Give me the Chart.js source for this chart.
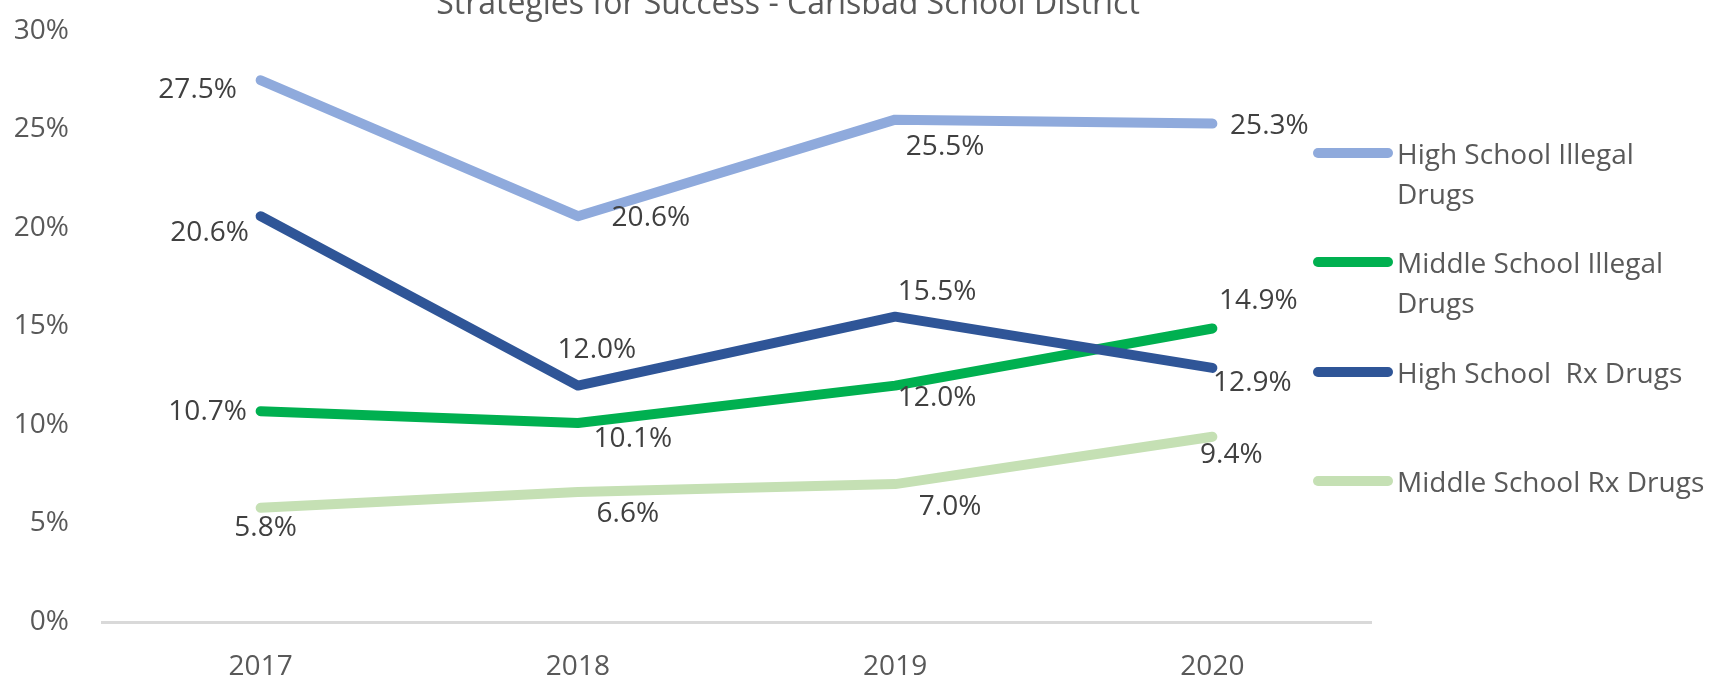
<!DOCTYPE html>
<html>
<head>
<meta charset="utf-8">
<title>Strategies for Success - Carlsbad School District</title>
<script src="https://cdn.jsdelivr.net/npm/chart.js@4.4.1/dist/chart.umd.min.js"></script>
<style>
  html, body { margin: 0; padding: 0; background: #fff; }
  #wrap { position: relative; width: 1733px; height: 677px; overflow: hidden; }
  #chart { position: absolute; left: 0; top: 0; }
  .legend-item {
    position: absolute; left: 1313px; display: flex; align-items: flex-start;
    font-family: 'Open Sans', sans-serif; font-size: 28px;
    line-height: 40px; color: #595959; white-space: pre;
  }
  .legend-item .swatch {
    display: inline-block; width: 80px; height: 10px; border-radius: 5px;
    margin-top: 15px; margin-right: 4px;
  }
</style>
</head>
<body>
<div id="wrap">
  <canvas id="chart" width="1733" height="677"></canvas>
  <div id="legend"></div>
</div>
<script>
// chart data
const years = ['2017', '2018', '2019', '2020'];
const hsIllegal = [27.5, 20.6, 25.5, 25.3];
const msIllegal = [10.7, 10.1, 12.0, 14.9];
const hsRx = [20.6, 12.0, 15.5, 12.9];
const msRx = [5.8, 6.6, 7.0, 9.4];
const seriesNames = ['High School Illegal\nDrugs', 'Middle School Illegal\nDrugs', 'High School  Rx Drugs', 'Middle School Rx Drugs'];
const yTickMin = 0;
const yTickMax = 30;
const yTickStep = 5;
const chartTitle = 'Strategies for Success - Carlsbad School District';

// styling
const FONT = "'Open Sans', sans-serif";
const colors = ['#8FAADC', '#00B050', '#2F5597', '#C5E0B4'];
const legendTops = [133, 242, 352, 461];
// data label offsets from each point (dx, dy), per series
const labelOffsets = [
  [[-63, 10], [73, 2], [50, 27], [57, 2]],
  [[-53, 1], [55, 16], [42, 12], [46, -27]],
  [[-51, 17], [19, -36], [42, -25], [40, 15]],
  [[5, 20], [50, 22], [55, 23], [19, 18]]
];

const seriesValues = [hsIllegal, msIllegal, hsRx, msRx];

// draws the value labels next to each point
const pointLabels = {
  id: 'pointLabels',
  afterDatasetsDraw(chart) {
    const ctx = chart.ctx;
    ctx.save();
    ctx.font = '28px ' + FONT;
    ctx.fillStyle = '#404040';
    ctx.textAlign = 'center';
    ctx.textBaseline = 'middle';
    chart.data.datasets.forEach((ds, i) => {
      const meta = chart.getDatasetMeta(i);
      meta.data.forEach((pt, j) => {
        const off = labelOffsets[i][j];
        ctx.fillText(ds.data[j].toFixed(1) + '%', pt.x + off[0], pt.y + off[1]);
      });
    });
    ctx.restore();
  }
};

// title sits partly above the top edge, like the original
const topTitle = {
  id: 'topTitle',
  afterDraw(chart) {
    const ctx = chart.ctx;
    ctx.save();
    ctx.font = '32px ' + FONT;
    ctx.fillStyle = '#595959';
    ctx.textAlign = 'center';
    ctx.textBaseline = 'alphabetic';
    ctx.fillText(chartTitle, 788, 14);
    ctx.restore();
  }
};

const ctx = document.getElementById('chart').getContext('2d');
new Chart(ctx, {
  type: 'line',
  data: {
    labels: years,
    datasets: seriesValues.map((vals, i) => ({
      label: seriesNames[i].replace('\n', ' '),
      data: vals,
      borderColor: colors[i],
      backgroundColor: colors[i],
      borderWidth: 10,
      borderCapStyle: 'round',
      borderJoinStyle: 'round',
      pointRadius: 0,
      tension: 0,
      order: seriesValues.length - 1 - i
    }))
  },
  options: {
    responsive: false,
    animation: false,
    layout: { padding: { top: 31, right: 362, left: 0, bottom: 0 } },
    plugins: {
      legend: { display: false },
      title: { display: false },
      tooltip: { enabled: false }
    },
    scales: {
      x: {
        offset: true,
        grid: { display: false },
        border: { display: true, color: '#D9D9D9', width: 3 },
        ticks: { color: '#595959', font: { family: FONT, size: 28 }, padding: 20 },
        afterFit(scale) { scale.height = 55; }
      },
      y: {
        min: yTickMin,
        max: yTickMax,
        // tick marks hidden; tickLength only sets the gap before the labels
        grid: { display: false, drawTicks: true, tickLength: 33 },
        border: { display: false },
        ticks: {
          stepSize: yTickStep,
          color: '#595959',
          font: { family: FONT, size: 28 },
          padding: 0,
          callback: v => v + '%'
        },
        afterFit(scale) { scale.width = 102; }
      }
    }
  },
  plugins: [pointLabels, topTitle]
});

// legend on the right, as html text
const legend = document.getElementById('legend');
seriesNames.forEach((name, i) => {
  const item = document.createElement('div');
  item.className = 'legend-item';
  item.style.top = legendTops[i] + 'px';
  const sw = document.createElement('span');
  sw.className = 'swatch';
  sw.style.background = colors[i];
  const txt = document.createElement('span');
  txt.textContent = name;
  item.appendChild(sw);
  item.appendChild(txt);
  legend.appendChild(item);
});
</script>
</body>
</html>
